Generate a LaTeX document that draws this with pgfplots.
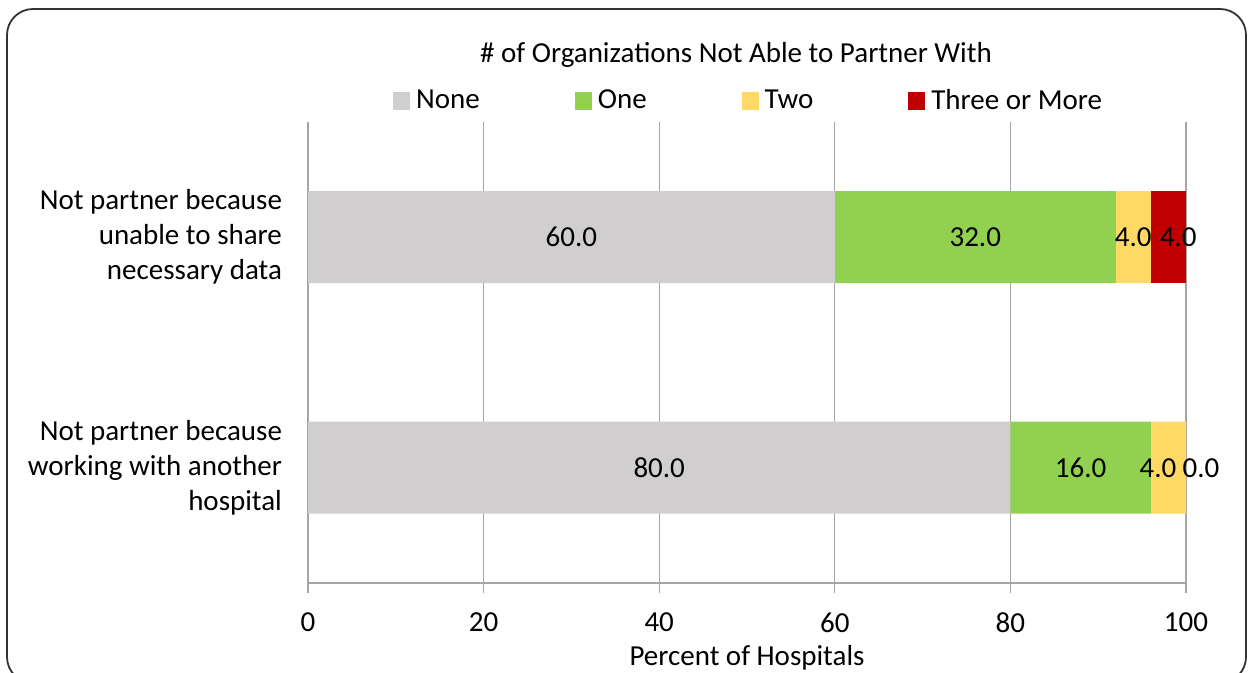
\documentclass[border=0pt]{standalone}
\usepackage{pgfplots}
\pgfplotsset{compat=1.18}
\usepackage{fontspec}
\setmainfont{Carlito}
\definecolor{cNone}{HTML}{D0CECE}
\definecolor{cOne}{HTML}{92D050}
\definecolor{cTwo}{HTML}{FFD966}
\definecolor{cThree}{HTML}{C00000}
\definecolor{gridc}{HTML}{A6A6A6}
\begin{document}
\fontsize{14.5bp}{17.5bp}\selectfont
\begin{tikzpicture}
\useasboundingbox (0,0) rectangle (626bp,336.5bp);
\draw[black!80, line width=0.9bp, rounded corners=13bp] (3.5bp,-5bp) rectangle (623bp,332bp);
\node[font=\fontsize{14.5bp}{17.5bp}\selectfont] at (368bp,309bp) {\# of Organizations Not Able to Partner With};
\begin{axis}[
  at={(154bp,45bp)}, anchor=south west,
  width=439bp, height=230.5bp, scale only axis,
  xbar stacked, bar width=46bp,
  xmin=0, xmax=100, ymin=-0.5, ymax=1.5,
  xtick={0,20,40,60,80,100},
  ytick={0,1},
  yticklabels={{Not partner because\\working with another\\hospital},{Not partner because\\unable to share\\necessary data}},
  yticklabel style={align=right, font=\fontsize{14.5bp}{17.5bp}\selectfont, xshift=-3bp},
  xticklabel style={font=\fontsize{14.5bp}{17.5bp}\selectfont, yshift=-5bp},
  /pgf/number format/assume math mode=true,
  axis x line*=bottom, axis y line*=left,
  axis line style={gridc, line width=1bp},
  x axis line style={-}, y axis line style={-, line width=0.6bp},
  xmajorgrids, grid style={gridc, line width=0.6bp},
  tick style={gridc, line width=0.6bp},
  xtick pos=bottom, tick align=outside, major tick length=5bp,
  y tick style={draw=none},
  xlabel={Percent of Hospitals},
  xlabel style={font=\fontsize{14.5bp}{17.5bp}\selectfont, yshift=3.5bp},
  legend columns=4,
  legend style={draw=none, fill=none, at={(0.503,1.045)}, anchor=center,
    font=\fontsize{14.5bp}{17.5bp}\selectfont,
    /tikz/every even column/.append style={column sep=45.5bp},
    /tikz/every odd column/.append style={column sep=1bp}},
  legend image code/.code={\fill[#1] (0bp,-4.5bp) rectangle (8.5bp,4.5bp);},
]
\addplot[fill=cNone, draw=none] coordinates {(60,1) (80,0)};
\addplot[fill=cOne, draw=none] coordinates {(32,1) (16,0)};
\addplot[fill=cTwo, draw=none] coordinates {(4,1) (4,0)};
\addplot[fill=cThree, draw=none] coordinates {(4,1) (0,0)};
\legend{None, One, Two, Three or More}
\end{axis}
\begin{axis}[
  at={(154bp,45bp)}, anchor=south west,
  width=439bp, height=230.5bp, scale only axis,
  xmin=0, xmax=100, ymin=-0.5, ymax=1.5,
  hide axis, clip=false,
]
\addplot[draw=none, mark=none, nodes near coords, point meta=explicit symbolic,
  every node near coord/.append style={anchor=center, font=\fontsize{14.5bp}{17.5bp}\selectfont}]
  table[meta=label] {
x y label
30 1 60.0
76 1 32.0
94 1 4.0
99.1 1 4.0
40 0 80.0
88 0 16.0
96.8 0 4.0
101.7 0 0.0
};
\end{axis}
\end{tikzpicture}
\end{document}
